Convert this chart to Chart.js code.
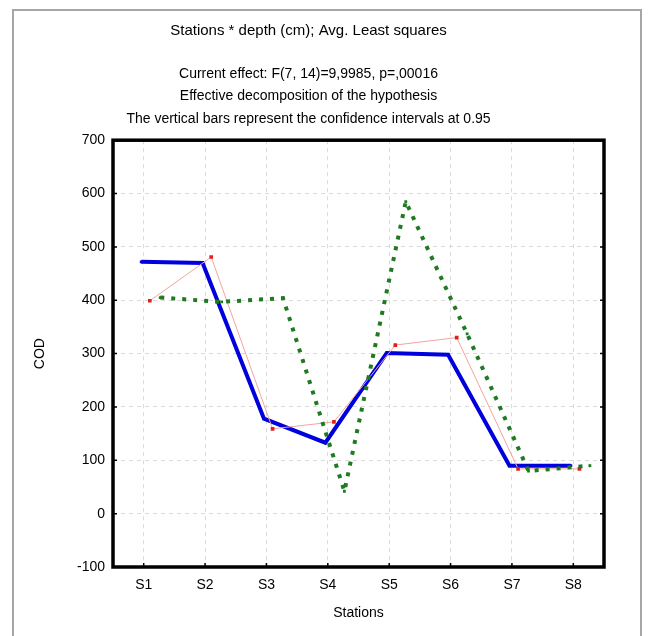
<!DOCTYPE html>
<html>
<head>
<meta charset="utf-8">
<script src="https://cdn.jsdelivr.net/npm/chart.js@4.4.0/dist/chart.umd.min.js"></script>
<style>
  html, body { margin: 0; padding: 0; background: #fff; }
  #wrap { width: 654px; height: 636px; position: relative; }
</style>
</head>
<body>
<div id="wrap"><canvas id="codChart"></canvas></div>
<script>
const stations = ['S1', 'S2', 'S3', 'S4', 'S5', 'S6', 'S7', 'S8'];
const depthA = [472, 470, 178, 133, 301, 298, 90, 90];     // blue, solid
const depthB = [399, 481, 159, 172, 316, 330, 84, 84];     // red, thin
const depthC = [405, 397, 404, 42, 585, 337, 80, 90];      // green, dotted
const yTicks = [-100, 0, 100, 200, 300, 400, 500, 600, 700];

const titleLine = 'Stations * depth (cm); Avg. Least squares';
const subLines = [
    'Current effect: F(7, 14)=9,9985, p=,00016',
    'Effective decomposition of the hypothesis',
    'The vertical bars represent the confidence intervals at 0.95'
];

// small horizontal shift so the three depths sit side by side
function toPoints(values, shift) {
    return values.map((v, i) => ({ x: i + 1 + shift, y: v }));
}

const frame = {
    id: 'frame',
    beforeDraw(chart) {
        const ctx = chart.ctx;
        ctx.save();
        ctx.strokeStyle = '#a6a6a6';
        ctx.lineWidth = 2;
        ctx.strokeRect(13, 10, 628, 640);
        ctx.restore();
    },
    afterDraw(chart) {
        const { ctx, chartArea: { left, top, right, bottom }, scales: { x, y } } = chart;
        ctx.save();
        ctx.strokeStyle = '#000';
        ctx.lineWidth = 1.5;
        ctx.beginPath();
        y.ticks.forEach(t => {
            const py = y.getPixelForValue(t.value);
            ctx.moveTo(left, py); ctx.lineTo(left + 4, py);
            ctx.moveTo(right, py); ctx.lineTo(right - 4, py);
        });
        x.ticks.forEach(t => {
            const px = x.getPixelForValue(t.value);
            ctx.moveTo(px, bottom); ctx.lineTo(px, bottom - 4);
        });
        ctx.stroke();
        ctx.lineWidth = 3.5;
        ctx.strokeRect(left, top, right - left, bottom - top);
        ctx.restore();
    }
};

const canvas = document.getElementById('codChart').getContext('2d');

const codChart = new Chart(canvas, {
    type: 'line',
    plugins: [frame],
    data: {
        datasets: [
            {
                label: 'depth 1',
                data: toPoints(depthC, 0.27),
                borderColor: '#1f7a22',
                backgroundColor: '#1f7a22',
                borderWidth: 4,
                borderDash: [4, 7],
                borderCapStyle: 'butt',
                pointStyle: 'rect',
                pointRadius: 2,
                pointBorderWidth: 0,
                pointHoverRadius: 2,
                tension: 0
            },
            {
                label: 'depth 2',
                data: toPoints(depthB, 0.1),
                borderColor: '#f2a59f',
                backgroundColor: '#e0201c',
                borderWidth: 1,
                pointStyle: 'rect',
                pointRadius: 2.6,
                pointBorderWidth: 0,
                pointHoverRadius: 2.6,
                tension: 0
            },
            {
                label: 'depth 3',
                data: toPoints(depthA, -0.04),
                borderColor: '#0000dc',
                backgroundColor: '#0000dc',
                borderWidth: 4,
                pointStyle: 'rect',
                pointRadius: 2,
                pointBorderWidth: 0,
                pointHoverRadius: 2,
                tension: 0
            }
        ]
    },
    options: {
        responsive: true,
        maintainAspectRatio: false,
        animation: false,
        layout: {
            padding: { top: 22, left: 13, right: 50, bottom: 9 }
        },
        plugins: {
            legend: { display: false },
            tooltip: { enabled: false },
            title: {
                display: true,
                text: titleLine,
                color: '#000',
                font: { family: 'Liberation Sans, Arial, sans-serif', size: 15, weight: 'normal', lineHeight: 1.2 },
                padding: { top: 0, bottom: 23 }
            },
            subtitle: {
                display: true,
                text: subLines,
                color: '#000',
                font: { family: 'Liberation Sans, Arial, sans-serif', size: 14, weight: 'normal', lineHeight: 1.6 },
                padding: { top: 0, bottom: 10 }
            }
        },
        scales: {
            x: {
                type: 'linear',
                min: 0.5,
                max: 8.5,
                afterFit(scale) { scale.height = 60; },
                afterBuildTicks(scale) {
                    scale.ticks = stations.map((s, i) => ({ value: i + 1 }));
                },
                ticks: {
                    padding: 10,
                    color: '#000',
                    font: { family: 'Liberation Sans, Arial, sans-serif', size: 14 },
                    callback: function(value) {
                        return stations[value - 1];
                    }
                },
                grid: {
                    color: '#dadada',
                    drawTicks: false
                },
                border: { display: false, dash: [4, 4] },
                title: {
                    display: true,
                    text: 'Stations',
                    color: '#000',
                    font: { family: 'Liberation Sans, Arial, sans-serif', size: 14 },
                    padding: { top: 0, bottom: 5 }
                }
            },
            y: {
                min: -100,
                max: 700,
                afterFit(scale) { scale.width = 100; },
                afterBuildTicks(scale) {
                    scale.ticks = yTicks.map(v => ({ value: v }));
                },
                ticks: {
                    padding: 8,
                    color: '#000',
                    font: { family: 'Liberation Sans, Arial, sans-serif', size: 14 }
                },
                grid: {
                    color: '#dadada',
                    drawTicks: false
                },
                border: { display: false, dash: [4, 4] },
                title: {
                    display: true,
                    text: 'COD',
                    color: '#000',
                    font: { family: 'Liberation Sans, Arial, sans-serif', size: 14 },
                    padding: { top: 19, bottom: 0 }
                }
            }
        }
    }
});
</script>
</body>
</html>
